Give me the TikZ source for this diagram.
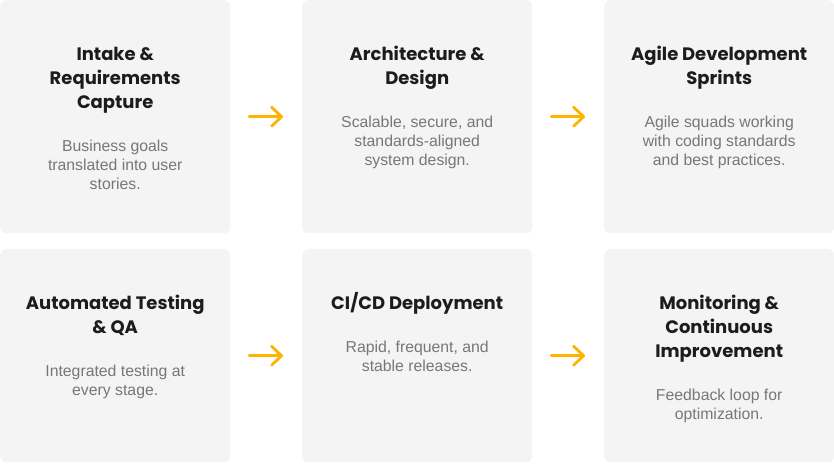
\documentclass[tikz,border=0pt]{standalone}
\usepackage{fontspec}
\usetikzlibrary{arrows.meta}
\newfontfamily\titlefont{Poppins}
\newfontfamily\bodyfont{Liberation Sans}
\definecolor{cardfill}{HTML}{F4F4F4}
\definecolor{titlecol}{HTML}{1C1C1C}
\definecolor{bodycol}{HTML}{777777}
\definecolor{arrowcol}{HTML}{FFB300}
\tikzset{
  card/.style={rectangle, rounded corners=6pt, fill=cardfill, draw=none, anchor=north west, minimum width=230pt, inner sep=0pt},
  cardtitle/.style={anchor=north, inner sep=0pt, align=center, text=titlecol, font=\titlefont\bfseries\fontsize{18}{24}\selectfont},
  cardbody/.style={anchor=north, inner sep=0pt, align=center, text=bodycol, font=\bodyfont\fontsize{15.8}{19}\selectfont},
  flowarrow/.style={draw=arrowcol, line width=2.8pt, line cap=round, -{Straight Barb[length=10pt, width=19pt, line cap=round, line join=round]}}
}
\newcommand\stepcard[6]{%
  \node[card, minimum height=#4pt] (#1) at (#2,#3) {};
  \node[cardtitle] (#1t) at ([yshift=-43.2pt]#1.north) {\strut #5\strut};
  \node[cardbody] (#1b) at ([yshift=-22.5pt]#1t.south) {\strut #6\strut};
}
\begin{document}
\begin{tikzpicture}[x=1pt, y=-1pt]
\useasboundingbox (0,0) rectangle (834,463);
\stepcard{b1}{0}{0}{233}{Intake \&\\Requirements\\Capture}{Business goals\\translated into user\\stories.}
\stepcard{b2}{302}{0}{233}{Architecture \&\\Design}{Scalable, secure, and\\standards-aligned\\system design.}
\stepcard{b3}{604}{0}{233}{Agile Development\\Sprints}{Agile squads working\\with coding standards\\and best practices.}
\stepcard{b4}{0}{249}{213}{Automated Testing\\\& QA}{Integrated testing at\\every stage.}
\stepcard{b5}{302}{249}{213}{CI/CD Deployment}{Rapid, frequent, and\\stable releases.}
\stepcard{b6}{604}{249}{213}{Monitoring \&\\Continuous\\Improvement}{Feedback loop for\\optimization.}
\draw[flowarrow] ([xshift=19pt]b1.east) -- ([xshift=-19pt]b2.west);
\draw[flowarrow] ([xshift=19pt]b2.east) -- ([xshift=-19pt]b3.west);
\draw[flowarrow] ([xshift=19pt]b4.east) -- ([xshift=-19pt]b5.west);
\draw[flowarrow] ([xshift=19pt]b5.east) -- ([xshift=-19pt]b6.west);
\end{tikzpicture}
\end{document}
